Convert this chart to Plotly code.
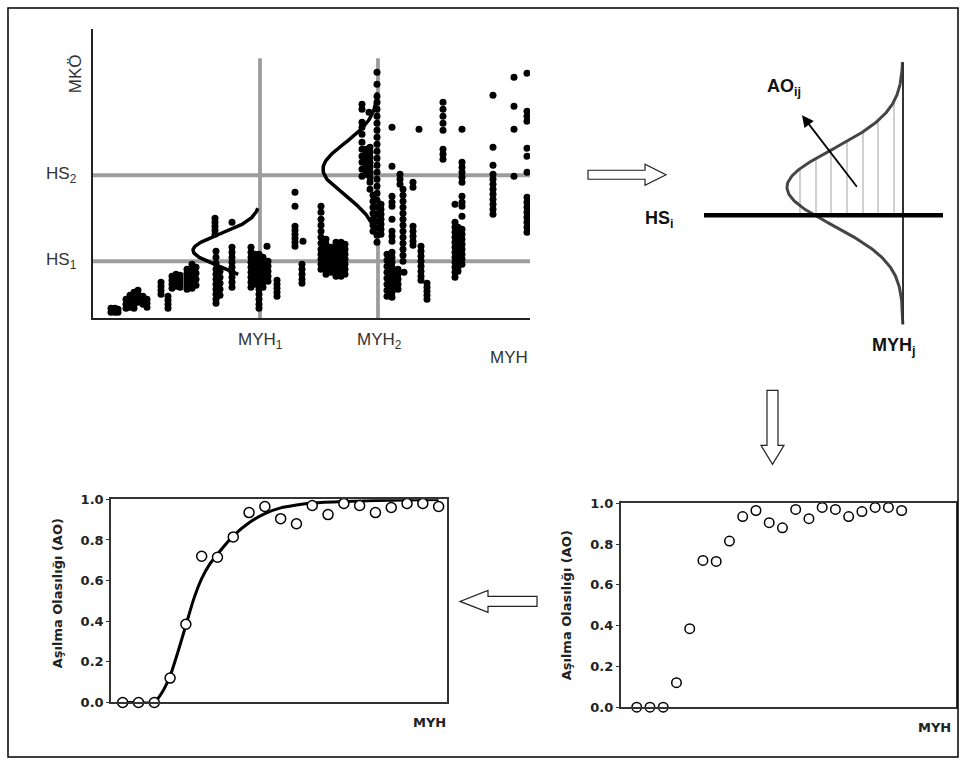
import numpy as np
import plotly.graph_objects as go

W, H = 967, 766
# the photographed page is squeezed slightly in height; lay out in reference pixels
SY, OY = 0.98, 8.0

# ---------------- top-left: MKÖ vs MYH scatter (arbitrary units) ----------------
col_x = [18, 22, 25, 33, 37, 41, 45, 50, 54, 68, 75, 79, 83, 87, 94, 99, 103,
         122, 139, 123, 127, 139, 158, 162, 166, 170, 174, 175, 184, 202, 210, 209,
         228, 233, 238, 243, 248, 252, 269, 276, 273, 277, 280, 284, 288, 299, 294,
         307, 310, 305, 311, 320, 326, 328, 334, 350, 362, 369, 365, 400, 421, 434]
col_y = [
    [10, 6], [10, 6], [9, 6], [19, 14, 10], [23, 19, 15, 11], [26, 22, 18, 14, 10],
    [28, 24, 20, 16], [22, 18, 14], [19, 15, 11], [36, 32, 28, 24], [22, 18, 14, 10],
    [42, 38, 34, 30], [44, 40, 36, 32], [43, 39, 35, 31], [49, 45, 41, 37, 33, 29],
    [54, 50, 46, 42, 38, 34, 30], [51, 45, 39, 33],
    [100, 96, 92, 88, 84], [96], [67, 61, 55, 49, 44, 39, 34, 29, 24, 19, 15],
    [47, 41, 35, 29, 23], [71, 66, 61, 56, 51, 46, 41, 36, 31],
    [71, 66, 61, 56, 51, 46, 41, 36, 31], [64, 59, 54, 49, 44, 39, 34],
    [64, 59, 54, 49, 44, 39, 34, 29, 24, 19, 14, 10], [61, 56, 51, 46, 41, 36, 31],
    [72], [57, 52, 47, 42, 37], [38, 34, 30, 26, 22],
    [126, 112, 92, 88, 84, 80, 76, 72], [77], [54, 49, 44, 39, 35],
    [112, 106, 99, 93, 87, 81, 75, 69, 64, 59, 54, 49], [79, 74, 69, 64, 59, 54, 49, 44],
    [71, 66, 61, 56, 51, 46], [76, 71, 66, 61, 56, 51, 46, 42], [76, 71, 66, 61, 56, 51, 46, 42],
    [74, 69, 64, 59, 54, 49, 44],
    [214, 209, 196, 191, 184, 176, 169, 162, 156, 149, 142], [206],
    [169, 164, 159, 154, 149, 144], [171, 166, 161, 156, 151, 146, 141, 136, 129],
    [123, 117, 111, 105, 99, 93, 87],
    [246, 234, 222, 216, 209, 202, 195, 188, 181, 174, 167, 160, 153, 146, 139, 132, 125,
     118, 111, 104, 97, 90, 83, 76],
    [114, 109, 104, 99, 94, 89, 84],
    [191, 152, 122, 116, 112, 99, 87, 82, 77, 66, 61, 56, 51, 46, 41, 36, 31, 26, 21],
    [64, 58, 52, 46, 40, 34, 28, 22], [144, 139, 134],
    [129, 123, 117, 111, 105, 99, 93, 87, 81, 75, 69, 63, 57], [49, 44, 39, 34, 29], [46],
    [136, 131, 92, 87, 82, 77, 73], [189], [72, 67, 62, 57, 52, 47, 42, 38],
    [35, 31, 27, 23, 19], [216, 209, 202, 195, 188, 169, 164, 159],
    [114, 96, 91, 86, 81, 76, 71, 66, 61, 56, 51, 46, 41],
    [189, 156, 151, 146, 141, 136, 122, 116, 112, 102, 89, 84, 79, 74, 69, 64, 59, 54],
    [91, 86, 81, 76, 71, 66, 61, 56, 51, 47],
    [223, 171, 153, 144, 139, 134, 129, 124, 119, 114, 109, 104],
    [241, 212, 189, 142],
    [245, 207, 202, 197, 170, 162, 146, 121, 116, 111, 106, 101, 96, 91, 86],
]
tl_xrange = [0, 437]
tl_yrange = [0, 289]
myh_levels = [167, 285]          # MYH1, MYH2
hs_levels = [57, 143]            # HS1, HS2
vline_top = 260
# normal curves drawn against MYH1 / MYH2: (base, mean, sd, amplitude, y_from, y_to)
gauss_tl = [(167, 68, 16, 67, 44, 110), (285, 149, 26, 55, 87, 226)]

# ---------------- top-right schematic ----------------
tr_xrange = [0, 250]
tr_yrange = [0, 280]
myhj_x = 203
hsi_y = 119
tr_gauss = (147, 38, 116, 10, 272)   # mean, sd, amplitude, y_from, y_to
hatch_x = [100, 116, 131, 147, 163, 178, 194]
hsi_span = [4, 243]

# ---------------- bottom panels: exceedance probability ----------------
ao_x = [1, 2, 3, 4, 5, 6, 7, 8, 9, 10, 11, 12, 13, 14, 15, 16, 17, 18, 19, 20, 21]
ao_y = [0, 0, 0, 0.12, 0.385, 0.72, 0.715, 0.815, 0.935, 0.965, 0.905, 0.88, 0.97,
        0.925, 0.98, 0.97, 0.935, 0.96, 0.98, 0.98, 0.965]
fit_x = [1, 2, 3, 3.5, 4, 4.5, 5, 5.5, 6, 6.5, 7, 8, 9, 10, 11, 12, 13, 15, 17, 19, 21]
fit_y = [0, 0, 0, 0.05, 0.13, 0.25, 0.38, 0.51, 0.61, 0.68, 0.73, 0.82, 0.885, 0.93,
         0.958, 0.972, 0.982, 0.99, 0.994, 0.997, 0.999]
ytick_vals = [0, 0.2, 0.4, 0.6, 0.8, 1.0]
ytick_text = ["0.0", "0.2", "0.4", "0.6", "0.8", "1.0"]


def fy(y):
    return y / SY - OY


def dom_x(p0, p1):
    return [p0 / W, p1 / W]


def dom_y(top, bottom):
    return [1 - fy(bottom) / H, 1 - fy(top) / H]


def fx(v, rng):
    return (v - rng[0]) / (rng[1] - rng[0])


fig = go.Figure()

# --- top-left ---
GRAY = "#9d9d9d"
for mx in myh_levels:
    fig.add_trace(go.Scatter(x=[mx, mx], y=[0, vline_top], mode="lines",
                             line=dict(color=GRAY, width=3.8), xaxis="x", yaxis="y",
                             hoverinfo="skip"))
for hy in hs_levels:
    fig.add_trace(go.Scatter(x=tl_xrange, y=[hy, hy], mode="lines",
                             line=dict(color=GRAY, width=3.8), xaxis="x", yaxis="y",
                             hoverinfo="skip"))
px_, py_ = [], []
for cx, ys in zip(col_x, col_y):
    for yv in ys:
        px_.append(cx)
        py_.append(yv)
fig.add_trace(go.Scatter(x=px_, y=py_, mode="markers",
                         marker=dict(size=7, color="black"), xaxis="x", yaxis="y"))
for base, mu, sd, amp, y0, y1 in gauss_tl:
    yy = np.linspace(y0, y1, 120)
    xx = base - amp * np.exp(-(yy - mu) ** 2 / (2 * sd ** 2))
    fig.add_trace(go.Scatter(x=xx, y=yy, mode="lines", line=dict(color="black", width=3.5),
                             xaxis="x", yaxis="y"))

# --- top-right schematic ---
mu, sd, amp, gy0, gy1 = tr_gauss
hx, hy = [], []
for xv in hatch_x:
    off = myhj_x - xv
    ytop = mu + np.sqrt(2 * sd ** 2 * np.log(amp / off))
    hx += [xv, xv, None]
    hy += [hsi_y, ytop, None]
fig.add_trace(go.Scatter(x=hx, y=hy, mode="lines", line=dict(color="#c4c4c4", width=1.6),
                         xaxis="x4", yaxis="y4"))
yy = np.linspace(gy0, gy1, 200)
xx = myhj_x - amp * np.exp(-(yy - mu) ** 2 / (2 * sd ** 2))
fig.add_trace(go.Scatter(x=xx, y=yy, mode="lines", line=dict(color="#454545", width=3),
                         xaxis="x4", yaxis="y4"))
fig.add_trace(go.Scatter(x=[myhj_x, myhj_x], y=[gy0, gy1], mode="lines",
                         line=dict(color="#333", width=2), xaxis="x4", yaxis="y4"))
fig.add_trace(go.Scatter(x=hsi_span, y=[hsi_y, hsi_y], mode="lines",
                         line=dict(color="black", width=4.5), xaxis="x4", yaxis="y4"))

# --- bottom-left (with fitted curve) ---
fig.add_trace(go.Scatter(x=fit_x, y=fit_y, mode="lines", line=dict(color="black", width=3,
                         shape="spline", smoothing=0.6), xaxis="x2", yaxis="y2"))
circ = dict(size=10, color="white", line=dict(color="black", width=1.5))
fig.add_trace(go.Scatter(x=ao_x, y=ao_y, mode="markers", marker=circ, xaxis="x2", yaxis="y2",
                         cliponaxis=False))
# --- bottom-right ---
fig.add_trace(go.Scatter(x=ao_x, y=ao_y, mode="markers", marker=dict(circ, size=9.5),
                         xaxis="x3", yaxis="y3", cliponaxis=False))

noax = dict(showgrid=False, zeroline=False, showticklabels=False, ticks="", showline=False)
tickfont = dict(family="DejaVu Sans", size=13, color="#222", weight="bold")
box_y = dict(showgrid=False, zeroline=False, showline=True, mirror=True, linecolor="#333",
             linewidth=1.5, range=[0, 1], tickvals=ytick_vals, ticktext=ytick_text,
             ticks="outside", ticklen=3, tickcolor="#333", tickfont=tickfont)
box_x = dict(showgrid=False, zeroline=False, showline=True, mirror=True, linecolor="#333",
             linewidth=1.5, showticklabels=False, ticks="")

fig.update_layout(
    width=W, height=H, autosize=False, margin=dict(l=0, r=0, t=0, b=0),
    paper_bgcolor="white", plot_bgcolor="rgba(0,0,0,0)", showlegend=False,
    xaxis=dict(domain=dom_x(93, 530), range=tl_xrange, anchor="y", showgrid=False,
               zeroline=False, showticklabels=False, ticks="", showline=True,
               linecolor="#222", linewidth=1.5),
    yaxis=dict(domain=dom_y(30, 319), range=tl_yrange, anchor="x", showgrid=False,
               zeroline=False, showticklabels=False, ticks="", showline=True,
               linecolor="#222", linewidth=1.5),
    xaxis2=dict(box_x, domain=dom_x(111, 447), range=[0.26, 21.53], anchor="y2"),
    yaxis2=dict(box_y, domain=dom_y(500, 703), anchor="x2"),
    xaxis3=dict(box_x, domain=dom_x(620.7, 955.7), range=[-0.21, 25.08], anchor="y3"),
    yaxis3=dict(box_y, domain=dom_y(504, 707.7), anchor="x3"),
    xaxis4=dict(noax, domain=dom_x(700, 950), range=tr_xrange, anchor="y4"),
    yaxis4=dict(noax, domain=dom_y(55, 335), range=tr_yrange, anchor="x4"),
)

# ---- annotations ----
lab = dict(family="Liberation Sans", size=17, color="#333")
bold_r = dict(family="Liberation Sans", size=18, color="#111", weight="bold")
bfont = dict(family="DejaVu Sans", size=13, color="#222", weight="bold")
CM = dict(xanchor="center", yanchor="middle", showarrow=False)


def tl(x, y, text, **kw):
    d = dict(CM, x=fx(x, tl_xrange), y=fx(y, tl_yrange), xref="x domain", yref="y domain",
             text=text, font=lab)
    d.update(kw)
    return d


def tr(x, y, text, **kw):
    d = dict(CM, x=fx(x, tr_xrange), y=fx(y, tr_yrange), xref="x4 domain",
             yref="y4 domain", text=text, font=bold_r)
    d.update(kw)
    return d


ann = [
    tl(-14, hs_levels[1], "HS<sub>2</sub>", xanchor="right"),
    tl(-14, hs_levels[0], "HS<sub>1</sub>", xanchor="right"),
    tl(myh_levels[0], -23, "MYH<sub>1</sub>"),
    tl(myh_levels[1] + 2, -23, "MYH<sub>2</sub>"),
    tl(416, -39, "MYH"),
    tl(-18, 244, "MKÖ", textangle=-90),
    tr(84, 247, "AO<sub>ij</sub>"),
    tr(-41, 115, "HS<sub>i</sub>"),
    tr(194, -12, "MYH<sub>j</sub>"),
    dict(x=102, y=219, ax=158, ay=146, xref="x4", yref="y4", axref="x4", ayref="y4",
         text="", showarrow=True, arrowhead=2, arrowsize=1.3, arrowwidth=1.8,
         arrowcolor="black"),
    dict(CM, x=-0.161, y=0.537, xref="x2 domain", yref="y2 domain",
         text="Aşılma Olasılığı (AO)", textangle=-90, font=bfont),
    dict(CM, x=0.949, y=-0.0985, xref="x2 domain", yref="y2 domain", text="MYH", font=bfont),
    dict(CM, x=-0.163, y=0.5, xref="x3 domain", yref="y3 domain",
         text="Aşılma Olasılığı (AO)", textangle=-90, font=bfont),
    dict(CM, x=0.938, y=-0.10, xref="x3 domain", yref="y3 domain", text="MYH", font=bfont),
]
fig.update_layout(annotations=ann)


# ---- block arrows and outer frame (decoration, in paper units) ----
def path(pts):
    return "M " + " L ".join(f"{x / W:.5f},{1 - fy(y) / H:.5f}" for x, y in pts) + " Z"


arrow_right = [(588, 171), (645, 171), (645, 165), (666, 175.5), (645, 186), (645, 180),
               (588, 180)]
arrow_down = [(767, 391), (778, 391), (778, 446), (784, 446), (772.5, 465), (761, 446),
              (767, 446)]
arrow_left = [(537, 597), (488, 597), (488, 591), (460, 602), (488, 613), (488, 607),
              (537, 607)]
shapes = []
for a in (arrow_right, arrow_down, arrow_left):
    shapes.append(dict(type="path", path=path(a), xref="paper", yref="paper",
                       fillcolor="white", line=dict(color="#222", width=1.2)))
frame_top = max(fy(4), 1.0)
frame_bot = min(fy(761), H - 1.0)
shapes.append(dict(type="rect", xref="paper", yref="paper", x0=8 / W, x1=958 / W,
                   y0=1 - frame_bot / H, y1=1 - frame_top / H,
                   line=dict(color="black", width=1.5)))
fig.update_layout(shapes=shapes)

fig.write_html(
    "out.html", config={"displayModeBar": False},
    post_script=("var gd=document.getElementById('{plot_id}');"
                 "gd.style.position='fixed';gd.style.top='0px';gd.style.left='0px';"))
